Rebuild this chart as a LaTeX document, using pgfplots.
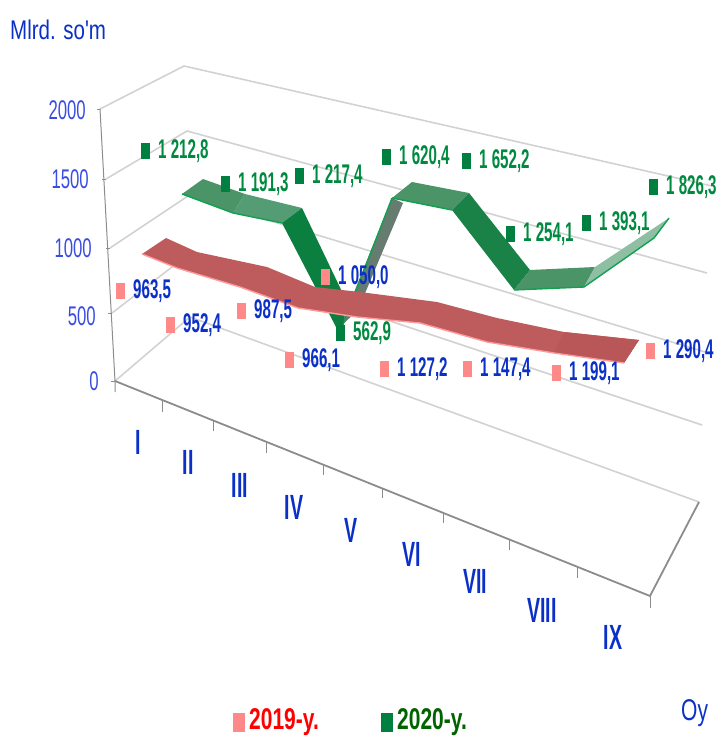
\documentclass[border=0pt]{standalone}
\usepackage{pgfplots}
\usepackage{fontspec}
\pgfplotsset{compat=1.18}
\setmainfont{Liberation Sans}
\newfontfamily\narrow[FakeStretch=0.56]{Liberation Sans}
\newfontfamily\tickf[FakeStretch=0.62]{Liberation Sans}
\newfontfamily\legf[FakeStretch=0.7]{Liberation Sans}
\newfontfamily\titf[FakeStretch=0.76]{Liberation Sans}
\definecolor{tickblue}{HTML}{3A4DE0}
\definecolor{labblue}{HTML}{0A30C8}
\definecolor{labgreen}{HTML}{008A40}
\definecolor{mkgreen}{HTML}{008040}
\definecolor{mkred}{HTML}{FF8888}
\definecolor{gridg}{HTML}{D2D2D2}
\definecolor{axg}{HTML}{8C8C8C}
\definecolor{rib}{HTML}{BE5B5D}
\definecolor{ribb}{HTML}{B85658}
\definecolor{ribl}{HTML}{FF9A9A}
\definecolor{gA}{HTML}{4A9468}
\definecolor{gB}{HTML}{539C74}
\definecolor{gD}{HTML}{0A7F3F}
\definecolor{gE}{HTML}{1A8247}
\definecolor{gU}{HTML}{667C70}
\definecolor{gL}{HTML}{8FBFA3}
\definecolor{gEdge}{HTML}{10A050}
\pgfplotsset{
  txt/.style 2 args={draw=none,mark=none,nodes near coords,point meta=explicit symbolic,forget plot,
    every node near coord/.append style={anchor=#1,inner sep=0pt,text=#2}},
  gl/.style={draw=gridg,line width=1.6pt,mark=none,forget plot},
  ax/.style={draw=axg,line width=1pt,mark=none,forget plot},
  seg/.style={fill=#1,draw=none,mark=none,forget plot},
  edge/.style={draw=#1,line width=1.4pt,mark=none,forget plot},
  lab/.style 2 args={only marks,mark=square*,mark size=7.5pt,mark options={xscale=0.55,fill=#1,draw=#1},
    nodes near coords,point meta=explicit symbolic,forget plot,
    every node near coord/.append style={anchor=west,xshift=13pt,inner sep=0pt,text=#2,
      font=\narrow\bfseries\fontsize{27}{29}\selectfont}},
}
\begin{document}
\begin{tikzpicture}
\useasboundingbox (0,0) rectangle (717pt,740pt);
\begin{axis}[at={(0,0)},anchor=south west,width=717pt,height=740pt,scale only axis,hide axis,clip=false,
  xmin=0,xmax=717,ymin=0,ymax=740,y dir=reverse]
% walls and grid
\addplot[gl] coordinates {(100,109)(184,66)(712,186)};
\addplot[gl] coordinates {(106,179)(187,131)(707,273)};
\addplot[gl] coordinates {(110,248)(188,196)(705,352)};
\addplot[gl] coordinates {(112,313)(189,254)(702,425)};
\addplot[gl] coordinates {(115,381)(190,317)(699,502)};
% axes
\addplot[ax] coordinates {(100,109)(115,381)(115,392)};
\addplot[ax,line width=1.8pt] coordinates {(115,381)(650,596)(699,502)};
\addplot[ax] coordinates {(650,596)(650,608)};
\addplot[ax] coordinates {(162.5,400)(162.5,412)};
\addplot[ax] coordinates {(213.5,420)(213.5,431)};
\addplot[ax] coordinates {(266.5,442)(266.5,453)};
\addplot[ax] coordinates {(323,465)(323,475)};
\addplot[ax] coordinates {(382,488)(382,498)};
\addplot[ax] coordinates {(443,513)(443,523)};
\addplot[ax] coordinates {(509.5,540)(509.5,550)};
\addplot[ax] coordinates {(577.5,567)(577.5,578)};
\addplot[ax] coordinates {(97,109)(100,109)};
\addplot[ax] coordinates {(102,179)(106,179)};
\addplot[ax] coordinates {(106,248)(110,248)};
\addplot[ax] coordinates {(108,313)(112,313)};
\addplot[ax] coordinates {(111,381)(115,381)};
% green ribbon (2020)
\addplot[seg=gU] coordinates {(340,327)(392,198)(403,203)(358,310)} -- cycle;
\addplot[edge=gEdge] coordinates {(342,327)(392,198)};
\addplot[seg=gA] coordinates {(182,194)(203,179)(245,194)(233,213)} -- cycle;
\addplot[seg=gB] coordinates {(233,213)(245,194)(302,208)(282,223)} -- cycle;
\addplot[edge=gEdge] coordinates {(182,194)(233,213)(282,223)};
\addplot[seg=gD] coordinates {(282,223)(302,208)(346,300)(343,327)(336,327)} -- cycle;
\addplot[seg=gA] coordinates {(392,198)(412,182)(469,193)(452,210)} -- cycle;
\addplot[edge=gEdge] coordinates {(392,198)(452,210)};
\addplot[seg=gE] coordinates {(452,210)(469,193)(530,270)(514,290)} -- cycle;
\addplot[seg=gA] coordinates {(514,290)(530,270)(595,267)(584,287)} -- cycle;
\addplot[edge=gEdge] coordinates {(514,290)(584,287)};
\addplot[seg=gL] coordinates {(584,287)(595,267)(669,218)(654,238)} -- cycle;
\addplot[edge=gEdge] coordinates {(584,287)(654,238)(669,218)};
% red ribbon (2019)
\addplot[seg=rib] coordinates {(142,254)(166,238)(197,252)(267,267)(315,287)(360,292)(437,302)(497,318)(564,332)(639,340)
  (624,363)(554,353)(487,342)(420,323)(357,317)(298,308)(240,287)(177,268)} -- cycle;
\addplot[seg=ribb] coordinates {(554,353)(564,332)(639,340)(624,363)} -- cycle;
\addplot[edge=ribl] coordinates {(142,254)(177,268)(240,287)(298,308)(357,317)(420,323)(487,342)(554,353)(624,363)};
% markers and value labels
\addplot[lab={mkgreen}{labgreen}] coordinates {(145,151)[1 212,8] (225,184)[1 191,3] (299,176)[1 217,4]
  (340,333)[562,9] (386,157)[1 620,4] (466,161)[1 652,2] (510,234)[1 254,1] (586,223)[1 393,1] (653,187)[1 826,3]};
\addplot[lab={mkred}{labblue}] coordinates {(120,291)[963,5] (170,325)[952,4] (241,311)[987,5] (289,360)[966,1]
  (325,277)[1 050,0] (384,369)[1 127,2] (467,369)[1 147,4] (556,373)[1 199,1] (650,351)[1 290,4]};
% value axis numbers
\addplot[txt={east}{tickblue},every node near coord/.append style={font=\tickf\fontsize{27}{29}\selectfont}]
  coordinates {(86,110)[2000] (89,179)[1500] (92,248)[1000] (96,316)[500] (99,381)[0]};
% month names
\addplot[txt={center}{labblue},every node near coord/.append style={font=\narrow\bfseries\fontsize{35}{37}\selectfont}]
  coordinates {(138,442)[I] (188,462)[II] (240,485)[III] (294,507)[IV] (351,530)[V] (412,554)[VI] (475,581)[VII] (542,610)[VIII] (613,637)[IX]};
% titles
\addplot[txt={west}{labblue},every node near coord/.append style={font=\titf\fontsize{27}{29}\selectfont}]
  coordinates {(10,30)[Mlrd. so'm]};
\addplot[txt={west}{labblue},every node near coord/.append style={font=\legf\fontsize{30}{32}\selectfont}]
  coordinates {(681,713)[Oy]};
% legend
\addplot[only marks,mark=square*,mark size=9pt,mark options={xscale=0.62,fill=mkred,draw=mkred},
  nodes near coords,point meta=explicit symbolic,forget plot,
  every node near coord/.append style={anchor=west,xshift=10pt,inner sep=0pt,text=red,font=\legf\bfseries\fontsize{30}{32}\selectfont}]
  coordinates {(239,722)[2019-y.]};
\addplot[only marks,mark=square*,mark size=9pt,mark options={xscale=0.62,fill=mkgreen,draw=mkgreen},
  nodes near coords,point meta=explicit symbolic,forget plot,
  every node near coord/.append style={anchor=west,xshift=10pt,inner sep=0pt,text=black!35!green!60!black,font=\legf\bfseries\fontsize{30}{32}\selectfont}]
  coordinates {(387,722)[2020-y.]};
\end{axis}
\end{tikzpicture}
\end{document}
